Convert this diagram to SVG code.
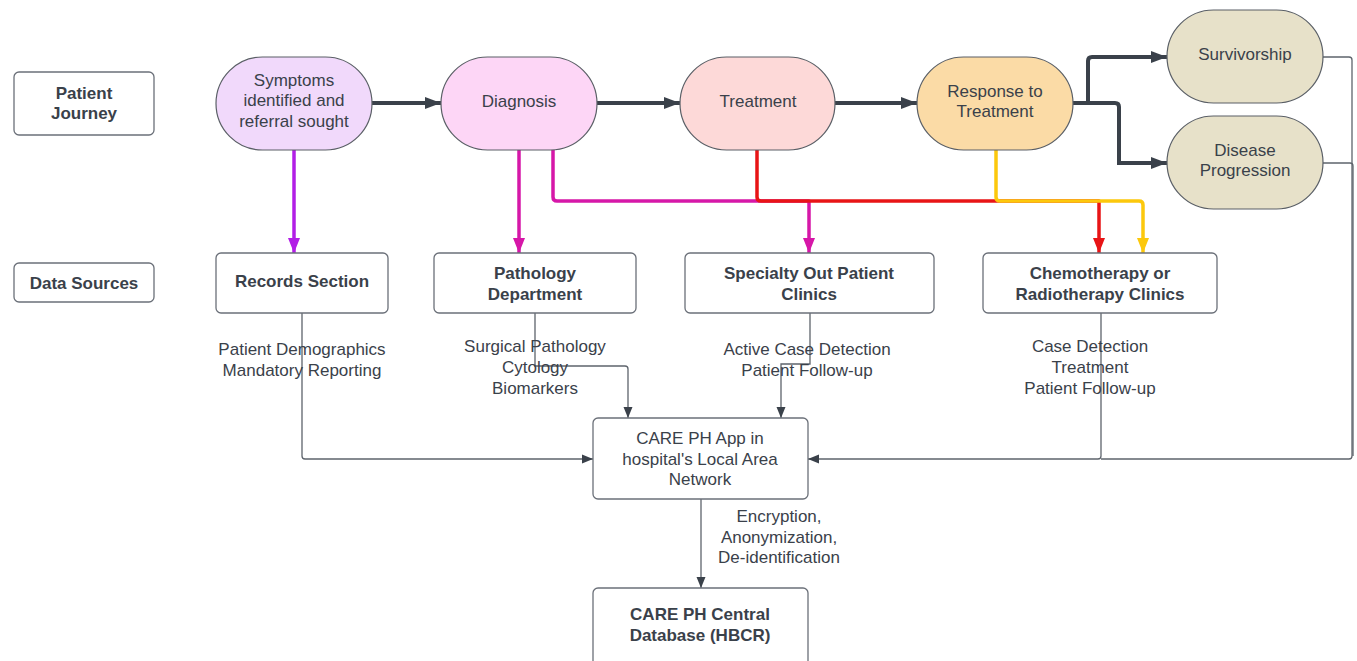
<svg xmlns="http://www.w3.org/2000/svg" width="1357" height="661" viewBox="0 0 1357 661">
<style>
text{font-family:"Liberation Sans",Arial,sans-serif;font-size:17px;fill:#3a414a;text-anchor:middle}
.b{font-weight:bold}
.box{fill:#fff;stroke:#6b7079;stroke-width:1.3}
.st{stroke:#5a5f66;stroke-width:1.2}
.thick{fill:none;stroke:#3a414a;stroke-width:4}
.thin{fill:none;stroke:#5e646c;stroke-width:1.3}
.col{fill:none;stroke-width:3.5;stroke-linejoin:round}
</style>
<defs>
<marker id="ad" markerUnits="userSpaceOnUse" markerWidth="18" markerHeight="14" refX="16" refY="7" orient="auto"><path d="M0,1 L16,7 L0,13 Z" fill="#3a414a"/></marker>
<marker id="ag" markerUnits="userSpaceOnUse" markerWidth="12" markerHeight="10" refX="11" refY="5" orient="auto"><path d="M0,0.5 L11,5 L0,9.5 Z" fill="#3a414a"/></marker>
<marker id="ap" markerUnits="userSpaceOnUse" markerWidth="16" markerHeight="12" refX="15" refY="6" orient="auto"><path d="M0,0 L15,6 L0,12 Z" fill="#b21ee6"/></marker>
<marker id="am" markerUnits="userSpaceOnUse" markerWidth="16" markerHeight="12" refX="15" refY="6" orient="auto"><path d="M0,0 L15,6 L0,12 Z" fill="#d617a8"/></marker>
<marker id="ar" markerUnits="userSpaceOnUse" markerWidth="16" markerHeight="12" refX="15" refY="6" orient="auto"><path d="M0,0 L15,6 L0,12 Z" fill="#e81416"/></marker>
<marker id="ay" markerUnits="userSpaceOnUse" markerWidth="16" markerHeight="12" refX="15" refY="6" orient="auto"><path d="M0,0 L15,6 L0,12 Z" fill="#fcc80c"/></marker>
</defs>

<g id="connectors">
<path class="thick" d="M372,103 H441" marker-end="url(#ad)"/>
<path class="thick" d="M597,103 H680" marker-end="url(#ad)"/>
<path class="thick" d="M835,103 H917" marker-end="url(#ad)"/>
<path class="thick" d="M1073,103 H1088 V61 Q1088,57 1092,57 H1167" marker-end="url(#ad)"/>
<path class="thick" d="M1073,103 H1115 Q1119,103 1119,107 V163 H1167" marker-end="url(#ad)"/>

<path class="col" stroke="#b21ee6" d="M294,150 V253" marker-end="url(#ap)"/>
<path class="col" stroke="#d617a8" d="M519,150 V253" marker-end="url(#am)"/>
<path class="col" stroke="#d617a8" d="M553,150 V197 Q553,201 557,201 H809 V253" marker-end="url(#am)"/>
<path class="col" stroke="#e81416" d="M757,150 V197 Q757,201 761,201 H1099 V253" marker-end="url(#ar)"/>
<path class="col" stroke="#fcc80c" d="M996,150 V197 Q996,201 1000,201 H1139 Q1143,201 1143,205 V253" marker-end="url(#ay)"/>

<path class="thin" d="M302,313 V456 Q302,459 305,459 H593" marker-end="url(#ag)"/>
<path class="thin" d="M535,313 V366 H625 Q628,366 628,369 V418" marker-end="url(#ag)"/>
<path class="thin" d="M810,313 V364 H781 V418" marker-end="url(#ag)"/>
<path class="thin" d="M1101,313 V456 Q1101,459 1098,459 H808" marker-end="url(#ag)"/>
<path class="thin" d="M1323,57 H1349 Q1352,57 1352,60 V456 Q1352,459 1349,459 H1101"/>
<path class="thin" d="M1323,163 H1350 Q1353,163 1353,166 V456"/>
<path class="thin" d="M701,499 V588" marker-end="url(#ag)"/>
</g>

<g id="patient-journey"><rect class="box" x="14" y="72" width="140" height="63" rx="5"/><text class="b" x="84" y="99">Patient</text><text class="b" x="84" y="119">Journey</text></g>
<g id="data-sources"><rect class="box" x="14" y="263" width="140" height="39" rx="5"/><text class="b" x="84" y="289">Data Sources</text></g>

<g id="symptoms"><rect class="st" fill="#f1d9fb" x="216" y="57" width="156" height="93" rx="46.5"/><text x="294" y="86">Symptoms</text><text x="294" y="106">identified and</text><text x="294" y="127">referral sought</text></g>
<g id="diagnosis"><rect class="st" fill="#fdd6f6" x="441" y="57" width="156" height="93" rx="46.5"/><text x="519" y="107">Diagnosis</text></g>
<g id="treatment"><rect class="st" fill="#fdd9d8" x="680" y="57" width="155" height="93" rx="46.5"/><text x="758" y="107">Treatment</text></g>
<g id="response"><rect class="st" fill="#fbdba6" x="917" y="57" width="156" height="93" rx="46.5"/><text x="995" y="97">Response to</text><text x="995" y="117">Treatment</text></g>
<g id="survivorship"><rect class="st" fill="#e7e1c9" x="1167" y="10" width="156" height="93" rx="46.5"/><text x="1245" y="60">Survivorship</text></g>
<g id="progression"><rect class="st" fill="#e7e1c9" x="1167" y="116" width="156" height="93" rx="46.5"/><text x="1245" y="156">Disease</text><text x="1245" y="176">Progression</text></g>

<g id="records"><rect class="box" x="216" y="253" width="172" height="60" rx="5"/><text class="b" x="302" y="287">Records Section</text></g>
<g id="pathology"><rect class="box" x="434" y="253" width="202" height="60" rx="5"/><text class="b" x="535" y="279">Pathology</text><text class="b" x="535" y="300">Department</text></g>
<g id="specialty"><rect class="box" x="685" y="253" width="249" height="60" rx="5"/><text class="b" x="809" y="279">Specialty Out Patient</text><text class="b" x="809" y="300">Clinics</text></g>
<g id="chemo"><rect class="box" x="983" y="253" width="234" height="60" rx="5"/><text class="b" x="1100" y="279">Chemotherapy or</text><text class="b" x="1100" y="300">Radiotherapy Clinics</text></g>

<g id="labels">
<text x="302" y="355">Patient Demographics</text><text x="302" y="376">Mandatory Reporting</text>
<text x="535" y="352">Surgical Pathology</text><text x="535" y="373">Cytology</text><text x="535" y="394">Biomarkers</text>
<text x="807" y="355">Active Case Detection</text><text x="807" y="376">Patient Follow-up</text>
<text x="1090" y="352">Case Detection</text><text x="1090" y="373">Treatment</text><text x="1090" y="394">Patient Follow-up</text>
<text x="779" y="522">Encryption,</text><text x="779" y="543">Anonymization,</text><text x="779" y="563">De-identification</text>
</g>

<g id="care-app"><rect class="box" x="593" y="418" width="215" height="81" rx="5"/><text x="700" y="444">CARE PH App in</text><text x="700" y="465">hospital's Local Area</text><text x="700" y="485">Network</text></g>
<g id="central-db"><rect class="box" x="593" y="588" width="215" height="95" rx="5"/><text class="b" x="700" y="620">CARE PH Central</text><text class="b" x="700" y="641">Database (HBCR)</text></g>
</svg>
